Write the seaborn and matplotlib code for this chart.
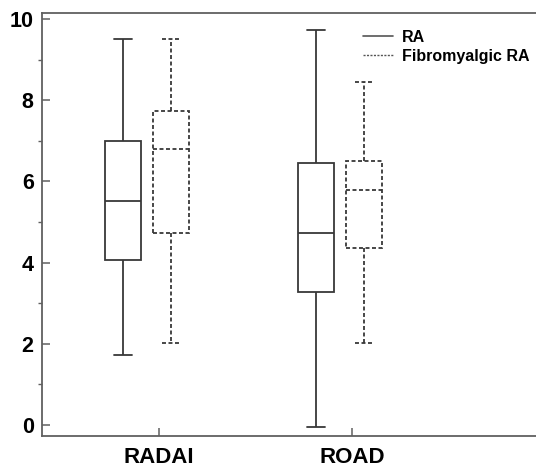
import pandas as pd
import seaborn as sns
import matplotlib.pyplot as plt
from matplotlib.lines import Line2D
from matplotlib.ticker import MultipleLocator

sns.set_theme(style="white")
plt.rcParams['font.family'] = ['Liberation Sans', 'DejaVu Sans']
plt.rcParams['font.weight'] = 'bold'
plt.rcParams['text.color'] = 'black'
plt.rcParams['xtick.labelcolor'] = 'black'
plt.rcParams['ytick.labelcolor'] = 'black'

measures = ["RADAI", "ROAD"]
groups = ["RA", "Fibromyalgic RA"]

# min, Q1, median, Q3, max
radai_ra = [1.73, 4.07, 5.52, 7.00, 9.50]
radai_fm = [2.02, 4.74, 6.79, 7.74, 9.50]
road_ra = [-0.05, 3.28, 4.74, 6.46, 9.74]
road_fm = [2.02, 4.35, 5.79, 6.51, 8.46]

rows = []
for m, g, vals in [("RADAI", "RA", radai_ra), ("RADAI", "Fibromyalgic RA", radai_fm),
                   ("ROAD", "RA", road_ra), ("ROAD", "Fibromyalgic RA", road_fm)]:
    for v in vals:
        rows.append({"measure": m, "group": g, "score": v})
df = pd.DataFrame(rows)

LINE = "#383838"
fig = plt.figure(figsize=(5.36, 4.69), dpi=100)
ax = fig.add_axes([0.0784, 0.0704, 0.9216, 0.9019])

sns.boxplot(data=df, x="measure", y="score", hue="group", order=measures,
            hue_order=groups, whis=(0, 100), width=0.5, gap=0.25,
            palette=["white", "white"], linecolor=LINE, linewidth=1.3,
            legend=False, ax=ax)

# dashed style for the fibromyalgic group
dash = (0, (2.2, 1.4))
cont = ax.containers[1]
for art in list(cont.boxes) + list(cont.whiskers) + list(cont.caps) + list(cont.medians):
    art.set_linestyle(dash)

off = 0.062
ax.set_xticks([0 + off, 1 + off])
ax.set_xticklabels(measures, fontsize=16, fontweight='bold', color='black')
ax.set_xlim(-0.544, 2.015)
ax.set_ylim(-0.27, 10.15)
ax.yaxis.set_major_locator(MultipleLocator(2))
ax.yaxis.set_minor_locator(MultipleLocator(1))
ax.set_xlabel("")
ax.set_ylabel("")

ax.tick_params(axis='y', which='major', left=True, direction='in', length=6,
               width=1.1, color="#606060", labelsize=15.5, pad=6)
ax.tick_params(axis='y', which='minor', left=True, direction='out', length=3,
               width=1.0, color="#606060")
ax.tick_params(axis='x', which='major', bottom=True, direction='in', length=6,
               width=1.1, color="#606060", pad=8)
for lab in ax.get_yticklabels():
    lab.set_fontweight('bold')

for s in ["left", "top", "bottom"]:
    ax.spines[s].set_color("#606060")
    ax.spines[s].set_linewidth(1.3)
ax.spines["right"].set_visible(False)

handles = [Line2D([], [], color="#555555", lw=1.2, ls='-'),
           Line2D([], [], color="#555555", lw=1.0, ls=(0, (1.5, 1.0)))]
ax.legend(handles, groups, loc='upper left', bbox_to_anchor=(363 / 536, 1 - 30 / 469),
          bbox_transform=fig.transFigure, frameon=False, borderpad=0,
          borderaxespad=0, handlelength=1.9, handletextpad=0.55,
          labelspacing=0.25, prop={'size': 11.5, 'weight': 'bold'})

fig.savefig("out.png", dpi=100)
